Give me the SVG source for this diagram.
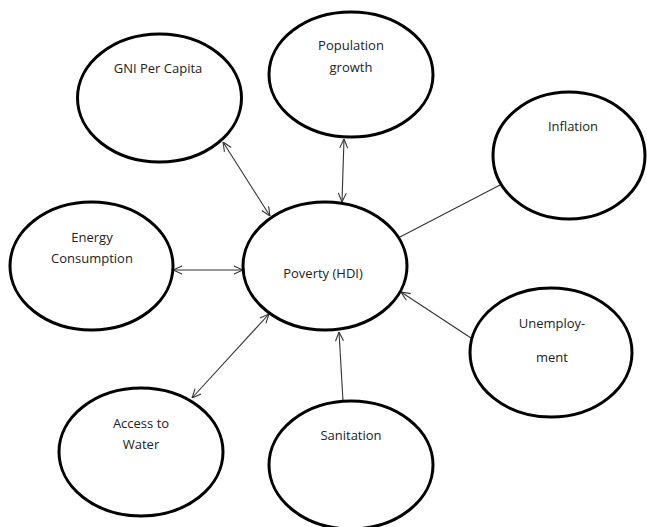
<svg xmlns="http://www.w3.org/2000/svg" width="647" height="527" viewBox="0 0 647 527">
<style>
.n{fill:#fff;stroke:#000;stroke-width:3}
.t{font-family:"Open Sans","Liberation Sans",sans-serif;font-size:13px;fill:#222;text-anchor:middle;dominant-baseline:central}
.c{stroke:#333;stroke-width:1.1;fill:none}
</style>
<defs>
<marker id="ah" viewBox="0 0 10 10" refX="10" refY="5" markerWidth="10" markerHeight="10" markerUnits="userSpaceOnUse" orient="auto-start-reverse">
<path d="M1,1 L10,5 L1,9" fill="none" stroke="#333" stroke-width="1.1"/>
</marker>
</defs>
<rect width="647" height="527" fill="#fff"/>
<g id="connectors">
<line class="c" x1="223" y1="142" x2="270" y2="216" marker-start="url(#ah)" marker-end="url(#ah)"/>
<line class="c" x1="344" y1="139" x2="342" y2="202" marker-start="url(#ah)" marker-end="url(#ah)"/>
<line class="c" x1="500" y1="185" x2="400" y2="237"/>
<line class="c" x1="173" y1="270" x2="243" y2="270" marker-start="url(#ah)" marker-end="url(#ah)"/>
<line class="c" x1="471" y1="338" x2="401" y2="292" marker-end="url(#ah)"/>
<line class="c" x1="192" y1="398" x2="269" y2="314" marker-start="url(#ah)" marker-end="url(#ah)"/>
<line class="c" x1="343" y1="401" x2="339" y2="332" marker-end="url(#ah)"/>
</g>
<g id="gni"><ellipse class="n" cx="159.5" cy="98" rx="82" ry="64"/><text class="t" x="158" y="68">GNI Per Capita</text></g>
<g id="population"><ellipse class="n" cx="351" cy="74.5" rx="82" ry="62.5"/><text class="t" x="351" y="45">Population</text><text class="t" x="351" y="67">growth</text></g>
<g id="inflation"><ellipse class="n" cx="569" cy="155.5" rx="76" ry="63.5"/><text class="t" x="573" y="126">Inflation</text></g>
<g id="energy"><ellipse class="n" cx="91.5" cy="266" rx="81.5" ry="64"/><text class="t" x="92" y="237">Energy</text><text class="t" x="92" y="258">Consumption</text></g>
<g id="poverty"><ellipse class="n" cx="325" cy="266" rx="82" ry="64"/><text class="t" x="323" y="273">Poverty (HDI)</text></g>
<g id="unemployment"><ellipse class="n" cx="551" cy="352.5" rx="81" ry="64.5"/><text class="t" x="552" y="323">Unemploy-</text><text class="t" x="552" y="357">ment</text></g>
<g id="water"><ellipse class="n" cx="141" cy="452" rx="82" ry="64"/><text class="t" x="141" y="423">Access to</text><text class="t" x="141" y="444">Water</text></g>
<g id="sanitation"><ellipse class="n" cx="351" cy="465" rx="82" ry="64"/><text class="t" x="351" y="435">Sanitation</text></g>
</svg>
